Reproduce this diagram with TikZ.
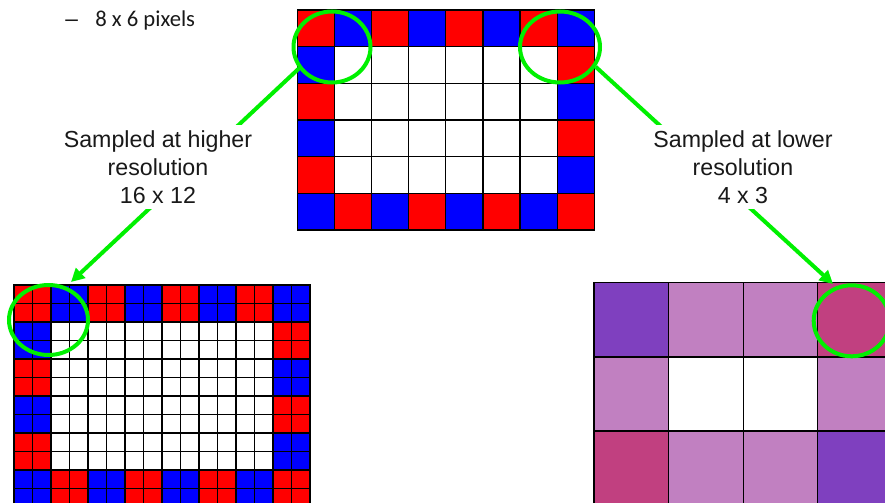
\documentclass[tikz,border=0pt]{standalone}
\usepackage{fontspec}
\setmainfont{Liberation Sans}
\newfontfamily\calib{Carlito}
\usetikzlibrary{shapes.geometric,arrows.meta}
\definecolor{pxred}{RGB}{255,0,0}
\definecolor{pxblue}{RGB}{0,0,255}
\definecolor{mpurple}{RGB}{127,64,191}
\definecolor{mlpink}{RGB}{193,128,193}
\definecolor{mdpink}{RGB}{193,64,128}
\definecolor{hl}{RGB}{0,240,0}
\tikzset{
  cell/.style={draw=black, line width=1pt},
  hlcirc/.style={ellipse, draw=hl, line width=3pt, inner sep=0pt},
  hlarrow/.style={draw=hl, line width=3pt, -{Triangle[length=10pt,width=10pt]}},
  lbl/.style={fill=white, align=center, inner sep=4pt,
    font=\fontsize{17.4pt}{21pt}\selectfont, text=black!90},
  bul/.style={anchor=base west, inner sep=0pt, font=\calib\fontsize{17pt}{20pt}\selectfont, text=black!90}
}
\begin{document}
\begin{tikzpicture}[x=0.75pt,y=-0.75pt]
\path[use as bounding box] (0,0) rectangle (885,503);
\clip (0,0) rectangle (885,503);

% top-left text
\node[bul, font=\fontsize{17pt}{20pt}\selectfont] (dash) at (65,26.5) {–};
\node[bul] (px) at (95,26.5) {8 x 6 pixels};

% top grid 8 x 6
\foreach \r in {0,...,5}{
  \foreach \c in {0,...,7}{
    \pgfmathtruncatemacro\isb{(\r==0)||(\r==5)||(\c==0)||(\c==7)}
    \pgfmathtruncatemacro\pty{mod(\r+\c,2)}
    \ifnum\isb=1 \ifnum\pty=0 \def\cc{pxred}\else\def\cc{pxblue}\fi\else\def\cc{white}\fi
    \filldraw[cell, fill=\cc] (297.3+\c*37.125, 10+\r*36.67) rectangle ++(37.125,36.67);
  }
}

% bottom-left grid 16 x 12
\foreach \r in {0,...,11}{
  \foreach \c in {0,...,15}{
    \pgfmathtruncatemacro\tr{\r/2}
    \pgfmathtruncatemacro\tc{\c/2}
    \pgfmathtruncatemacro\isb{(\tr==0)||(\tr==5)||(\tc==0)||(\tc==7)}
    \pgfmathtruncatemacro\pty{mod(\tr+\tc,2)}
    \ifnum\isb=1 \ifnum\pty=0 \def\cc{pxred}\else\def\cc{pxblue}\fi\else\def\cc{white}\fi
    \filldraw[cell, fill=\cc] (14+\c*18.5, 285+\r*18.5) rectangle ++(18.5,18.5);
  }
}

% bottom-right grid 4 x 3
\foreach \cc [count=\i from 0] in {mpurple,mlpink,mlpink,mdpink,mlpink,white,white,mlpink,mdpink,mlpink,mlpink,mpurple}{
  \pgfmathtruncatemacro\r{\i/4}
  \pgfmathtruncatemacro\c{mod(\i,4)}
  \filldraw[cell, fill=\cc] (594+\c*74.6, 282.7+\r*74.2) rectangle ++(74.6,74.2);
}

% circles
\node[hlcirc, minimum width=57.75pt, minimum height=53.25pt] (cTL) at (332,47) {};
\node[hlcirc, minimum width=60pt, minimum height=53.25pt] (cTR) at (560,47) {};
\node[hlcirc, minimum width=59.25pt, minimum height=52.5pt] (cBL) at (48.5,320) {};
\node[hlcirc, minimum width=57pt, minimum height=53.25pt] (cBR) at (851.7,320.8) {};

\coordinate (tipL) at (71,282);
\coordinate (tipR) at (833,284);

\draw[hlarrow] (cTL.213) -- (tipL);
\draw[hlarrow] (cTR.-29) -- (tipR);

% labels
\node[lbl] (tL) at (158,167) {Sampled at higher\\resolution\\16 x 12};
\node[lbl] (tR) at (743,167) {Sampled at lower\\resolution\\4 x 3};
\end{tikzpicture}
\end{document}
